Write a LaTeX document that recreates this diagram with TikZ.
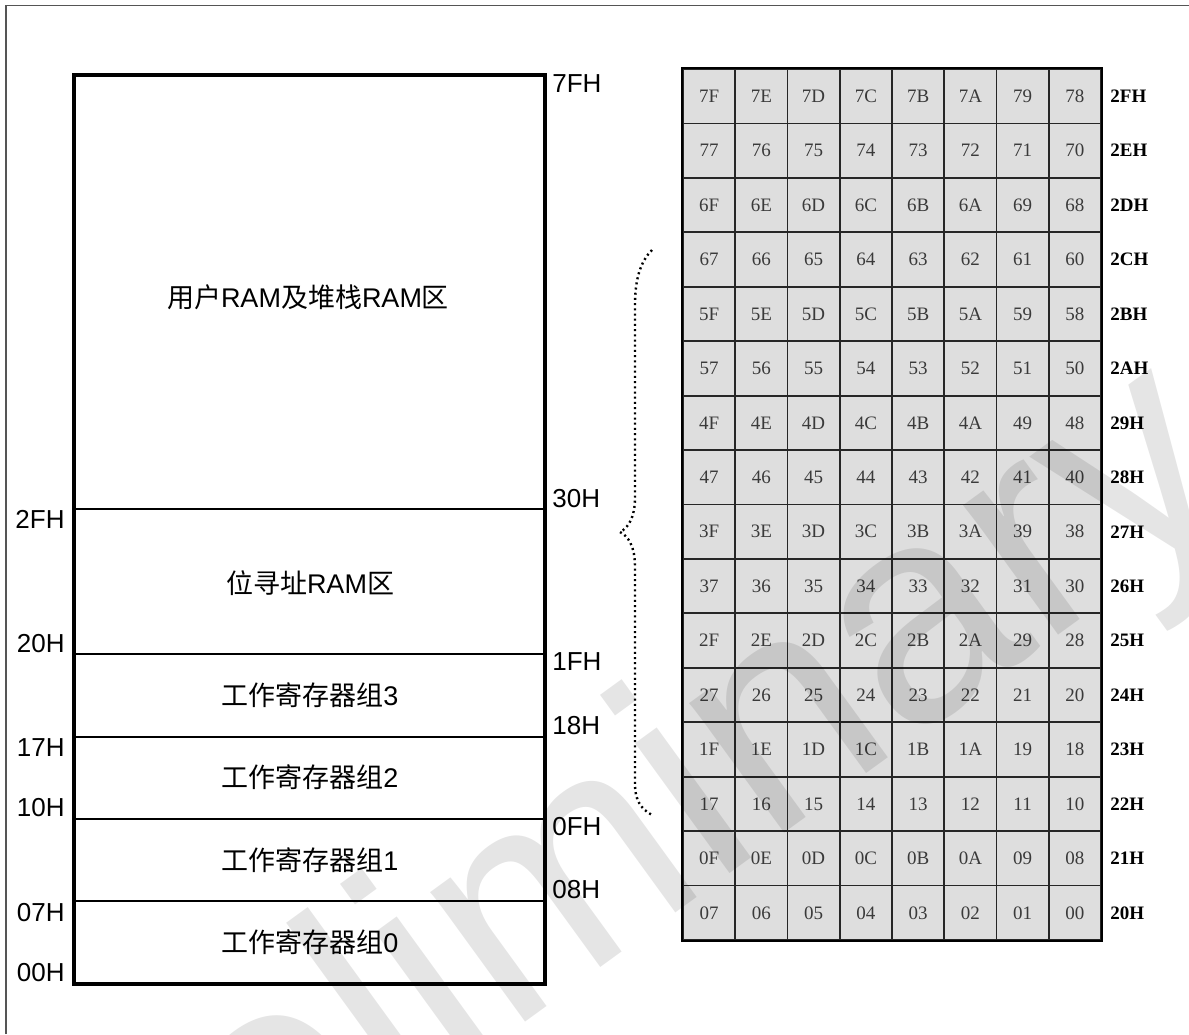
\documentclass[tikz,border=0pt]{standalone}
\usepackage{fontspec}
\setmainfont{Liberation Sans}
\newfontfamily\cjk{Noto Sans CJK SC}
\newfontfamily\cellfont{Liberation Serif}
\definecolor{cellgray}{HTML}{DEDEDE}
\definecolor{celltext}{HTML}{3A3A3A}
\definecolor{framegray}{HTML}{555555}
\newcommand{\zh}[1]{{\cjk #1}}

\begin{document}
\begin{tikzpicture}[x=0.5pt, y=-0.5pt,
  region/.style={inner sep=0pt, font=\fontsize{13.5}{16}\selectfont},
  addr/.style={inner sep=0pt, font=\fontsize{13}{15}\selectfont},
  bitcell/.style={draw=black!85, line width=0.9pt, fill=cellgray,
                  minimum width=26.12pt, minimum height=27.22pt, inner sep=0pt,
                  font=\cellfont\fontsize{9.5}{11}\selectfont, text=celltext},
  bytelabel/.style={anchor=west, inner sep=0pt,
                    font=\cellfont\bfseries\fontsize{9.5}{11}\selectfont},
  divider/.style={line width=1pt},
  bracedot/.style={line width=1.2pt, dash pattern=on 1pt off 1.6pt},
]

\useasboundingbox (0,0) rectangle (1189,1034);

% frame
\draw[framegray, line width=0.7pt] (6,1034) -- (6,5.5) -- (1189,5.5);

% memory map
\foreach \y in {509, 654, 737, 819, 901}
  \draw[divider] (74,\y) -- (545,\y);
\draw[line width=2pt] (74,75) rectangle (545,984);

\node[region] (user) at (308,297) {\zh{用户}RAM\zh{及堆栈}RAM\zh{区}};
\node[region] (bitram) at (310,583) {\zh{位寻址}RAM\zh{区}};
\node[region] (bank3) at (310,695) {\zh{工作寄存器组}3};
\node[region] (bank2) at (310,777) {\zh{工作寄存器组}2};
\node[region] (bank1) at (310,860) {\zh{工作寄存器组}1};
\node[region] (bank0) at (310,942) {\zh{工作寄存器组}0};

\node[addr, anchor=north west] (a7F) at (552,74) {7FH};
\node[addr, anchor=south west] (a30) at (552,508) {30H};
\node[addr, anchor=north west] (a1F) at (552,652) {1FH};
\node[addr, anchor=south west] (a18) at (552,735) {18H};
\node[addr, anchor=north west] (a0F) at (552,817) {0FH};
\node[addr, anchor=south west] (a08) at (552,899) {08H};

\node[addr, anchor=north east] (a2F) at (65,510) {2FH};
\node[addr, anchor=south east] (a20) at (65,653) {20H};
\node[addr, anchor=north east] (a17) at (65,738) {17H};
\node[addr, anchor=south east] (a10) at (65,817) {10H};
\node[addr, anchor=north east] (a07) at (65,903) {07H};
\node[addr, anchor=south east] (a00) at (65,982) {00H};

% bit addressable area
\foreach \r in {0,...,15} {
  \pgfmathtruncatemacro{\byte}{47-\r}
  \pgfmathsetmacro{\bytehex}{Hex(\byte)}
  \node[bytelabel] (r\r) at (1110,{96.2+54.44*\r}) {\bytehex H};
  \foreach \c in {0,...,7} {
    \pgfmathtruncatemacro{\bit}{(15-\r)*8+7-\c}
    \pgfmathsetmacro{\bithex}{Hex(\bit)}
    \node[bitcell] (c\r-\c) at ({709.1+52.25*\c},{96.2+54.44*\r})
      {\ifnum\bit<16 0\fi\bithex};
  }
}
\draw[line width=1.2pt] (c0-0.north west) rectangle (c15-7.south east);

% brace
\draw[bracedot] (652,250) .. controls (640,262) and (635,280) .. (635,305)
  -- (635,497) .. controls (635,518) and (628,528) .. (620,532)
  .. controls (628,536) and (635,546) .. (635,567)
  -- (635,785) .. controls (635,800) and (641,809) .. (652,815);

% watermark
\begin{scope}
  \clip (0,0) rectangle (1189,1034);
  \node[rotate=36, anchor=base, inner sep=0pt, text=black, text opacity=0.1,
        font=\fontsize{152}{152}\selectfont] (mark) at (645,935) {preliminary};
\end{scope}

\end{tikzpicture}
\end{document}
